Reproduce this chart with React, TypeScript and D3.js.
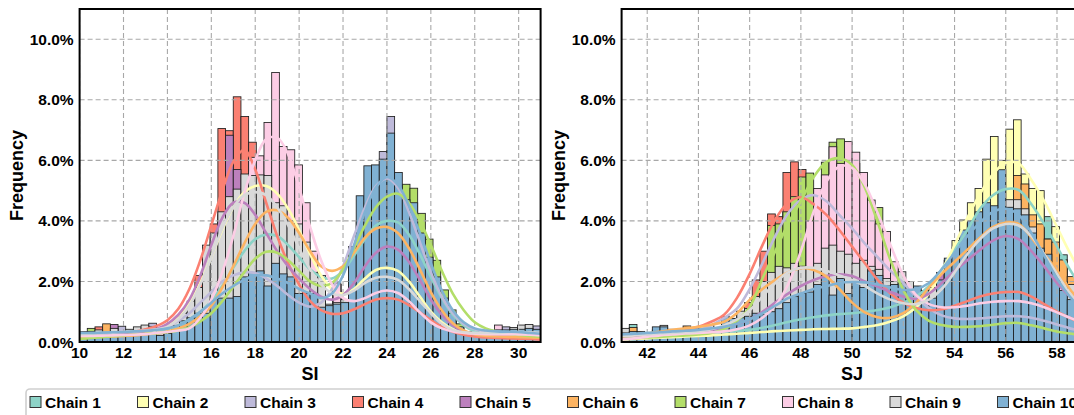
import React from "react";
import * as d3 from "d3";

// ---- chains ----
const CHAIN_NAMES = ["Chain 1", "Chain 2", "Chain 3", "Chain 4", "Chain 5", "Chain 6", "Chain 7", "Chain 8", "Chain 9", "Chain 10"];
const CHAIN_COLORS = ["#8dd3c7", "#ffffb3", "#bebada", "#fb8072", "#bc80bd", "#fdb462", "#b3de69", "#fccde5", "#d9d9d9", "#80b1d3"];

// ---- ticks ----
const FREQ_TICKS = [0, 2, 4, 6, 8, 10];
const SI_TICKS = [10, 12, 14, 16, 18, 20, 22, 24, 26, 28, 30];
const SJ_TICKS = [42, 44, 46, 48, 50, 52, 54, 56, 58];

// ---- binning / density grids ----
const SI_FIRST_EDGE = 10;
const SI_BIN_WIDTH = 0.35;
const SJ_FIRST_EDGE = 41;
const SJ_BIN_WIDTH = 0.3;
const SI_KDE_START = 10;
const SJ_KDE_START = 41;
const KDE_STEP = 0.5;

// ---- SI histograms (percent per bin) ----
const siHist1 = [.2,.2,.25,.28,.3,.2,.2,.3,.35,.4, .22,.28,.5,.65,.8,.95,1.2,1.6,2.0,2.6, 3.0,3.3,3.5,3.6,3.5,3.7,3.3,3.0,2.6,2.3, 2.2,2.0,1.2,1.9,1.35,2.8,3.3,3.7,3.9,4.1, 4.2,3.9,3.6,3.2,2.7,2.1,1.6,1.1,.8,.5, .3,.25,.25,.25,.3,.3,.3,.3,.3,.3];
const siHist2 = [.15,.2,.2,.25,.3,.25,.25,.3,.35,.4, .25,.3,.65,.9,1.3,1.8,2.5,3.3,4.0,4.6, 4.9,5.2,5.3,5.4,5.1,5.0,4.6,4.1,3.6,3.0, 2.3,2.0,1.2,1.7,1.35,1.9,2.1,2.3,2.4,2.5, 2.6,2.4,2.1,1.8,1.4,1.0,.7,.5,.35,.3, .25,.2,.2,.2,.2,.2,.2,.2,.2,.2];
const siHist3 = [.2,.25,.3,.3,.35,.52,.3,.35,.4,.62, .25,.3,.55,.8,1.0,1.3,1.6,1.9,2.1,2.2, 2.3,2.35,2.3,2.2,2.0,1.9,1.7,1.4,1.3,1.2, 1.15,1.2,1.2,1.6,1.35,3.0,4.0,4.6,5.2,6.29, 7.45,5.1,4.3,3.8,3.0,2.3,1.6,1.1,.75,.5, .34,.25,.25,.28,.35,.5,.4,.4,.4,.53];
const siHist4 = [.34,.2,.5,.25,.3,.2,.3,.35,.4,.45, .2,.3,.6,.9,1.3,2.2,3.0,3.9,7.05,6.98, 8.1,7.45,6.6,5.3,4.5,3.9,3.2,2.4,2.0,1.5, 1.2,1.1,.9,.9,1.0,1.1,1.2,1.4,1.5,1.5, 1.6,1.4,1.3,1.1,.9,.7,.5,.4,.3,.22, .2,.15,.15,.15,.12,.12,.12,.1,.1,.1];
const siHist5 = [.15,.2,.22,.25,.58,.2,.25,.3,.35,.42, .25,.3,.65,.9,1.3,1.8,2.8,3.5,4.2,6.83, 5.7,4.6,4.4,3.9,3.5,3.1,2.7,2.3,2.1,1.9, 1.7,1.5,1.2,1.5,1.4,2.0,2.4,2.8,3.0,3.3, 3.3,3.0,2.7,2.3,1.8,1.3,.9,.6,.4,.3, .25,.22,.2,.2,.2,.2,.2,.2,.2,.2];
const siHist6 = [.12,.15,.18,.6,.2,.2,.22,.25,.28,.3, .25,.3,.4,.55,.7,.95,1.2,1.7,2.2,2.8, 3.3,3.8,4.2,4.5,4.5,4.4,4.1,3.7,3.3,2.8, 2.3,2.1,1.2,1.9,1.38,3.0,3.3,3.6,3.8,3.9, 3.9,3.6,3.2,2.8,2.2,1.6,1.1,.7,.45,.3, .25,.2,.2,.2,.2,.2,.2,.2,.2,.2];
const siHist7 = [.1,.45,.2,.2,.22,.2,.22,.25,.28,.5, .2,.3,.35,.42,.5,.7,.9,1.3,1.7,2.1, 2.4,2.7,2.9,3.0,3.0,2.9,2.7,2.5,2.2,2.0, 1.9,1.9,1.2,1.9,1.35,3.0,3.6,4.1,4.5,4.8, 5.0,5.0,5.21,5.08,4.25,3.4,2.7,1.72,1.06,.6, .3,.3,.28,.25,.25,.25,.22,.2,.2,.2];
const siHist8 = [.2,.25,.25,.2,.3,.2,.25,.3,.3,.35, .3,.25,.45,.55,.7,.9,1.2,1.7,2.3,3.0, 3.8,4.8,6.1,6.15,7.25,8.9,6.46,6.35,5.85,4.6, 3.0,2.0,1.2,1.95,1.3,1.35,1.5,1.6,1.7,1.75, 1.8,1.65,1.45,1.2,.95,.75,.55,.45,.35,.3, .28,.33,.25,.28,.56,.3,.3,.3,.3,.3];
const siHist9 = [.3,.35,.4,.15,.45,.2,.42,.5,.56,.45, .2,.32,.7,.95,1.35,1.8,3.2,3.6,4.3,4.8, 5.05,5.55,5.5,5.52,5.5,4.6,4.5,4.0,3.9,3.3, 2.3,2.2,1.25,1.3,1.4,1.8,2.0,2.1,2.2,2.2, 2.3,2.2,2.0,1.8,1.5,1.1,.8,.55,.4,.35, .28,.28,.3,.32,.35,.38,.48,.56,.58,.4];
const siHist10 = [.2,.25,.25,.3,.3,.22,.2,.3,.35,.3, .22,.28,.55,.7,.8,.95,.95,1.4,1.45,1.45, 1.5,2.15,2.3,2.35,1.85,2.6,2.25,2.15,1.6,1.6, 1.6,1.15,1.2,1.25,1.3,3.15,4.83,5.82,5.85,6.04, 6.9,5.6,4.7,4.6,3.6,2.8,2.15,1.45,.95,.5, .3,.28,.28,.3,.4,.4,.42,.42,.45,.42];

// ---- SI density curves (percent, every 0.5 from 10 to 31) ----
const siKde1 = [.2,.22,.24,.26,.3,.32,.35,.38,.42,.55,.75,1.0,1.35,1.85,2.45,3.0,3.4,3.55,3.5,3.2,2.8,2.4,2.15,2.1,2.35,2.85,3.4,3.85,4.0,3.95,3.55,2.9,2.15,1.45,.9,.55,.35,.25,.22,.2,.2,.19,.18];
const siKde2 = [.15,.17,.19,.21,.24,.27,.31,.4,.55,.85,1.3,1.95,2.8,3.7,4.45,4.95,5.15,5.15,4.9,4.4,3.7,2.9,2.2,1.75,1.6,1.75,2.1,2.38,2.45,2.35,2.0,1.5,1.0,.65,.42,.3,.25,.22,.2,.19,.18,.17,.16];
const siKde3 = [.25,.27,.29,.3,.32,.35,.38,.43,.5,.7,.95,1.3,1.65,2.0,2.2,2.3,2.28,2.1,1.85,1.55,1.3,1.17,1.3,1.75,2.5,3.5,4.45,5.15,5.4,5.1,4.3,3.3,2.3,1.5,.95,.6,.42,.35,.32,.3,.28,.25,.22];
const siKde4 = [.12,.15,.19,.23,.28,.34,.42,.53,.72,1.1,1.75,2.7,3.85,5.0,5.95,6.35,5.7,4.6,3.5,2.6,1.9,1.35,1.05,.93,.95,1.08,1.25,1.4,1.45,1.4,1.22,.98,.72,.5,.34,.24,.18,.15,.13,.12,.11,.1,.08];
const siKde5 = [.18,.2,.22,.24,.27,.3,.35,.43,.6,.9,1.4,2.2,3.2,4.1,4.6,4.6,4.2,3.6,3.0,2.5,2.1,1.75,1.5,1.4,1.55,1.95,2.5,2.95,3.15,3.05,2.65,2.05,1.4,.9,.55,.35,.25,.21,.19,.18,.17,.16,.15];
const siKde6 = [.15,.16,.17,.18,.2,.22,.25,.29,.35,.45,.6,.85,1.2,1.8,2.5,3.25,3.9,4.3,4.35,4.1,3.6,3.0,2.5,2.35,2.5,2.95,3.45,3.75,3.8,3.6,3.1,2.4,1.65,1.05,.62,.38,.25,.2,.18,.17,.16,.15,.14];
const siKde7 = [.1,.13,.16,.19,.22,.25,.27,.29,.32,.38,.48,.68,.95,1.35,1.83,2.3,2.75,2.98,2.95,2.7,2.35,2.0,1.85,1.95,2.4,3.1,3.85,4.45,4.8,4.9,4.6,4.0,3.2,2.35,1.6,1.05,.65,.45,.35,.28,.23,.2,.17];
const siKde8 = [.2,.2,.21,.22,.23,.24,.26,.3,.33,.38,.45,.8,1.4,2.3,3.5,4.9,6.0,6.7,6.75,6.2,5.1,3.8,2.7,1.9,1.45,1.35,1.45,1.62,1.7,1.62,1.35,.98,.65,.45,.35,.3,.27,.26,.26,.26,.25,.24,.22];
const siKde9 = [.25,.27,.29,.31,.33,.35,.38,.42,.5,.75,1.2,1.9,2.8,3.75,4.45,4.85,4.95,4.85,4.45,3.85,3.1,2.4,1.9,1.6,1.55,1.7,1.95,2.12,2.15,2.05,1.75,1.35,.95,.6,.4,.32,.3,.3,.3,.32,.33,.32,.3];
const siKde10 = [.3,.3,.31,.32,.33,.35,.37,.4,.45,.55,.75,1.0,1.3,1.6,1.85,2.05,2.2,2.2,2.1,1.95,1.75,1.6,1.45,1.6,2.2,3.2,4.3,5.1,5.45,5.2,4.5,3.6,2.6,1.7,1.05,.65,.45,.38,.35,.34,.33,.3,.27];

// ---- SJ histograms (percent per bin) ----
const sjHist1 = [.15,.58,.2,.2,.22,.23,.25,.26,.27,.28, .29,.31,.33,.34,.36,.38,.4,.45,.5,.55, .6,.66,.7,.75,.8,.84,.88,.9,.92,.94, .95,1.0,1.03,1.06,1.1,1.15,1.25,1.35,1.5,1.65, 1.75,2.0,2.7,3.0,3.4,3.9,4.3,4.6,4.9,5.0, 5.1,5.0,4.7,4.5,4.4,4.14,3.4,2.88,2.1,1.8];
const sjHist2 = [.08,.1,.12,.13,.14,.15,.17,.18,.19,.2, .21,.22,.23,.25,.26,.28,.3,.32,.34,.36, .37,.38,.4,.41,.42,.43,.44,.44,.45,.45, .46,.5,.52,.56,.62,.7,.85,1.0,1.2,1.45, 1.7,2.05,2.7,3.35,4.03,4.6,5.07,6.04,6.79,6.0, 7.03,7.34,5.55,5.07,5.0,3.4,3.81,2.7,2.1,1.7];
const sjHist3 = [.15,.17,.2,.22,.25,.28,.3,.33,.36,.4, .42,.46,.48,.75,.78,1.0,1.1,1.5,2.0,3.5, 3.8,4.3,4.7,4.9,4.9,4.7,4.5,4.3,4.0,3.8, 3.6,3.3,3.0,2.8,2.5,2.2,1.9,1.6,1.3,1.1, .9,.85,.8,.78,.78,.8,.8,.82,.85,.88, .88,.85,.82,.78,.72,.65,.58,.5,.42,.35];
const sjHist4 = [.12,.15,.18,.22,.25,.28,.3,.33,.36,.4, .42,.45,.48,.7,.75,.95,1.3,2.05,3.0,4.23, 4.14,5.6,5.95,5.7,4.7,4.5,4.3,4.0,3.7,3.4, 3.1,2.8,2.4,2.1,1.8,1.6,1.4,1.25,1.15,1.1, 1.05,1.1,1.15,1.25,1.35,1.45,1.5,1.55,1.6,1.65, 1.7,1.65,1.6,1.45,1.3,1.15,1.0,.9,.8,.65];
const sjHist5 = [.12,.14,.16,.18,.2,.22,.25,.27,.3,.32, .34,.38,.42,.5,.6,.7,.8,1.0,1.2,1.3, 1.45,1.65,1.8,1.9,2.0,2.1,2.2,2.2,2.3,2.2, 2.2,2.0,1.9,1.8,1.7,1.6,1.5,1.45,1.45,1.5, 1.45,2.3,2.2,2.5,2.8,3.0,3.2,3.4,3.5,3.6, 3.5,3.4,3.2,2.8,2.5,2.2,1.9,1.6,1.3,1.0];
const sjHist6 = [.2,.48,.25,.28,.3,.35,.38,.4,.53,.45, .45,.5,.45,.7,.75,1.0,1.1,1.5,1.8,2.1, 2.2,2.35,2.45,2.45,2.4,2.3,2.2,1.55,1.6,1.5, 1.2,1.0,.9,.8,.8,.85,1.0,1.2,1.5,1.7, 1.45,2.0,2.4,2.6,3.0,3.3,3.6,3.9,4.2,4.5, 4.4,5.5,5.22,4.2,3.9,3.4,3.3,2.71,2.16,1.6];
const sjHist7 = [.1,.12,.13,.15,.16,.17,.2,.2,.22,.24, .25,.28,.3,.38,.5,.75,1.0,1.4,1.9,3.85, 3.9,4.3,4.8,5.45,5.58,5.0,5.94,6.6,6.71,6.0, 5.9,5.2,4.5,4.44,3.2,2.5,1.9,1.5,1.2,.8, .6,.55,.5,.5,.5,.52,.55,.58,.6,.62, .65,.62,.6,.55,.5,.45,.4,.35,.3,.25];
const sjHist8 = [.1,.12,.15,.17,.2,.22,.25,.27,.28,.3, .3,.32,.33,.35,.4,.45,.55,.7,.9,1.2, 1.5,2.0,2.5,2.5,4.0,5.07,5.52,6.45,5.9,6.62, 6.27,5.6,4.69,3.9,3.65,2.65,2.0,1.6,1.4,1.3, 1.2,1.2,1.2,1.2,1.25,1.3,1.3,1.35,1.35,1.4, 1.4,1.35,1.3,1.2,1.1,1.0,.9,.8,.7,.6];
const sjHist9 = [.45,.3,.35,.25,.4,.55,.35,.35,.35,.4, .4,.56,.45,.7,.75,1.02,1.1,1.5,2.0,2.3, 2.5,2.45,2.6,2.5,2.45,2.6,3.1,3.2,3.0,2.9, 2.6,2.7,2.5,2.4,2.1,2.0,2.32,2.0,1.6,1.5, 1.8,1.9,2.4,2.8,3.2,3.5,3.8,4.0,4.3,4.4, 4.7,4.7,4.4,3.8,3.0,2.6,2.2,2.0,1.9,1.5];
const sjHist10 = [.3,.35,.3,.3,.5,.5,.42,.4,.4,.47, .45,.45,.48,.84,.78,.8,.85,.95,.9,1.0, 1.1,1.3,1.5,1.6,1.65,1.9,2.2,1.55,2.1,1.6, 2.0,1.8,2.35,2.2,1.85,1.9,1.95,1.7,1.85,1.7, 1.45,2.05,2.77,3.1,3.7,4.0,4.3,4.6,4.5,5.69, 4.45,4.4,4.2,3.6,3.1,2.9,2.3,1.7,1.4,1.05];

// ---- SJ density curves (percent, every 0.5 from 41 to 59) ----
const sjKde1 = [.15,.18,.2,.22,.24,.26,.28,.31,.34,.37,.4,.47,.56,.66,.75,.82,.88,.92,.95,1.0,1.06,1.15,1.3,1.5,1.85,2.4,3.05,3.7,4.4,4.85,5.05,5.02,4.55,3.9,3.15,2.4,1.75];
const sjKde2 = [.08,.1,.12,.14,.16,.18,.2,.22,.25,.27,.3,.33,.36,.38,.4,.42,.43,.44,.45,.5,.56,.68,.85,1.15,1.6,2.35,3.2,4.1,4.9,5.55,5.92,5.9,5.35,4.65,3.8,2.95,2.2];
const sjKde3 = [.15,.17,.2,.24,.28,.33,.4,.55,.8,1.1,1.75,2.6,3.5,4.25,4.7,4.85,4.65,4.2,3.75,3.25,2.8,2.35,1.95,1.5,1.12,.88,.78,.76,.78,.82,.85,.85,.8,.7,.58,.45,.35];
const sjKde4 = [.12,.17,.23,.28,.34,.41,.5,.67,.9,1.45,2.25,3.2,4.05,4.6,4.78,4.55,4.2,3.7,3.15,2.6,2.05,1.6,1.3,1.12,1.05,1.08,1.2,1.35,1.5,1.6,1.65,1.65,1.5,1.25,1.0,.8,.6];
const sjKde5 = [.12,.15,.18,.22,.26,.3,.34,.4,.5,.6,.75,1.0,1.3,1.6,1.85,2.05,2.18,2.24,2.18,2.0,1.83,1.65,1.5,1.42,1.6,1.95,2.35,2.7,3.05,3.35,3.5,3.4,3.0,2.5,1.95,1.5,1.1];
const sjKde6 = [.18,.23,.29,.34,.4,.45,.5,.57,.67,.95,1.39,1.75,2.05,2.3,2.44,2.38,2.16,1.75,1.3,.98,.82,.8,.95,1.3,1.8,2.25,2.65,3.05,3.45,3.8,3.95,3.9,3.45,2.9,2.38,1.75,1.25];
const sjKde7 = [.1,.12,.15,.17,.2,.22,.25,.3,.42,.7,1.15,2.1,3.0,3.9,4.65,5.45,5.95,6.07,5.85,5.1,3.95,2.7,1.72,1.05,.7,.56,.5,.5,.52,.57,.62,.63,.55,.45,.35,.28,.22];
const sjKde8 = [.08,.12,.17,.22,.25,.28,.3,.32,.35,.42,.55,.8,1.2,1.9,3.0,4.3,5.3,5.8,5.75,5.2,4.25,3.2,2.2,1.55,1.25,1.15,1.15,1.2,1.28,1.33,1.35,1.35,1.28,1.15,.98,.8,.65];
const sjKde9 = [.2,.22,.25,.28,.3,.32,.35,.42,.55,.75,1.05,1.5,1.95,2.3,2.45,2.45,2.35,2.2,2.05,1.85,1.6,1.4,1.28,1.25,1.4,1.75,2.3,2.9,3.4,3.75,3.9,3.85,3.5,2.9,2.25,1.6,1.1];
const sjKde10 = [.25,.27,.3,.32,.35,.37,.4,.45,.5,.6,.75,.95,1.2,1.45,1.6,1.75,1.85,1.95,1.98,1.97,1.9,1.8,1.72,1.75,1.95,2.4,2.95,3.5,3.95,4.3,4.4,4.2,3.6,2.85,2.1,1.5,1.05];

const SI_HIST = [siHist1, siHist2, siHist3, siHist4, siHist5, siHist6, siHist7, siHist8, siHist9, siHist10];
const SI_KDE = [siKde1, siKde2, siKde3, siKde4, siKde5, siKde6, siKde7, siKde8, siKde9, siKde10];
const SJ_HIST = [sjHist1, sjHist2, sjHist3, sjHist4, sjHist5, sjHist6, sjHist7, sjHist8, sjHist9, sjHist10];
const SJ_KDE = [sjKde1, sjKde2, sjKde3, sjKde4, sjKde5, sjKde6, sjKde7, sjKde8, sjKde9, sjKde10];

// ---- layout ----
const WIDTH = 1074;
const HEIGHT = 415;
const PLOT_TOP = 9;
const PLOT_BOTTOM = 342;
const PLOT_WIDTH = 461;
const FONT = "'Liberation Sans', Arial, Helvetica, sans-serif";

type PanelProps = {
  id: string;
  left: number;
  domain: [number, number];
  ticks: number[];
  hist: number[][];
  kde: number[][];
  firstEdge: number;
  binWidth: number;
  kdeStart: number;
  label: string;
};

function Panel({ id, left, domain, ticks, hist, kde, firstEdge, binWidth, kdeStart, label }: PanelProps) {
  const x = d3.scaleLinear().domain(domain).range([left, left + PLOT_WIDTH]);
  const y = d3.scaleLinear().domain([0, 11]).range([PLOT_BOTTOM, PLOT_TOP]);
  const fmt = d3.format(".1f");
  const line = d3
    .line<number>()
    .x((_, i) => x(kdeStart + i * KDE_STEP))
    .y((d) => y(d))
    .curve(d3.curveCatmullRom);
  const clipId = `clip-${id}`;
  const right = left + PLOT_WIDTH;

  return (
    <g>
      <defs>
        <clipPath id={clipId}>
          <rect x={left} y={PLOT_TOP} width={PLOT_WIDTH} height={PLOT_BOTTOM - PLOT_TOP} />
        </clipPath>
      </defs>

      {/* layered histograms: later chains are drawn on top */}
      <g clipPath={`url(#${clipId})`}>
        {hist.map((bins, c) => (
          <g key={c}>
            {bins.map((v, k) => {
              const x0 = x(firstEdge + k * binWidth);
              const x1 = x(firstEdge + (k + 1) * binWidth);
              return (
                <rect
                  key={k}
                  x={x0}
                  y={y(v)}
                  width={x1 - x0}
                  height={y(0) - y(v)}
                  fill={CHAIN_COLORS[c]}
                  stroke="#1e1e1e"
                  strokeWidth={0.85}
                />
              );
            })}
          </g>
        ))}
      </g>

      {/* dashed grid above the bars */}
      <g clipPath={`url(#${clipId})`}>
        {ticks.map((t) => (
          <line key={`gx${t}`} x1={x(t)} x2={x(t)} y1={PLOT_TOP} y2={PLOT_BOTTOM} stroke="#a8a8a8" strokeWidth={1.1} strokeDasharray="5,3" />
        ))}
        {FREQ_TICKS.filter((t) => t > 0).map((t) => (
          <line key={`gy${t}`} x1={left} x2={right} y1={y(t)} y2={y(t)} stroke="#a8a8a8" strokeWidth={1.1} strokeDasharray="5,3" />
        ))}
      </g>

      {/* density curves */}
      <g clipPath={`url(#${clipId})`}>
        {kde.map((vals, c) => (
          <path key={c} d={line(vals) || ""} fill="none" stroke={CHAIN_COLORS[c]} strokeWidth={2.6} strokeLinejoin="round" />
        ))}
      </g>

      {/* frame */}
      <rect x={left} y={PLOT_TOP} width={PLOT_WIDTH} height={PLOT_BOTTOM - PLOT_TOP} fill="none" stroke="#000" strokeWidth={2} />

      {/* y tick labels */}
      {FREQ_TICKS.map((t) => (
        <text key={`yl${t}`} x={left - 6} y={y(t)} textAnchor="end" dominantBaseline="central" fontFamily={FONT} fontWeight="bold" fontSize={15.5} fill="#000">
          {`${fmt(t)}%`}
        </text>
      ))}

      {/* x tick labels */}
      {ticks.map((t) => (
        <text key={`xl${t}`} x={x(t)} y={358} textAnchor="middle" fontFamily={FONT} fontWeight="bold" fontSize={15.5} fill="#000">
          {t}
        </text>
      ))}

      <text x={(left + right) / 2} y={380} textAnchor="middle" fontFamily={FONT} fontWeight="bold" fontSize={18} fill="#000">
        {label}
      </text>
      <text
        transform={`translate(${left - 63},${(PLOT_TOP + PLOT_BOTTOM) / 2}) rotate(-90)`}
        textAnchor="middle"
        dominantBaseline="central"
        fontFamily={FONT}
        fontWeight="bold"
        fontSize={18}
        fill="#000"
      >
        Frequency
      </text>
    </g>
  );
}

function Legend() {
  const step = 107.5;
  return (
    <g>
      <rect x={26} y={389} width={1070} height={40} rx={4} fill="#fff" stroke="#cfcfcf" strokeWidth={1.6} />
      {CHAIN_NAMES.map((name, i) => {
        const px = 30 + i * step;
        return (
          <g key={name}>
            <rect x={px} y={396.5} width={11} height={11} fill={CHAIN_COLORS[i]} stroke="#333" strokeWidth={1} />
            <text x={px + 15} y={402} dominantBaseline="central" fontFamily={FONT} fontWeight="bold" fontSize={15.5} fill="#000">
              {name}
            </text>
          </g>
        );
      })}
    </g>
  );
}

export default function App() {
  return (
    <svg
      width={WIDTH}
      height={HEIGHT}
      viewBox={`0 0 ${WIDTH} ${HEIGHT}`}
      style={{ position: "absolute", left: 0, top: 0, background: "#fff" }}
    >
      <rect x={0} y={0} width={WIDTH} height={HEIGHT} fill="#fff" />
      <Panel
        id="si"
        left={79.6}
        domain={[10, 31]}
        ticks={SI_TICKS}
        hist={SI_HIST}
        kde={SI_KDE}
        firstEdge={SI_FIRST_EDGE}
        binWidth={SI_BIN_WIDTH}
        kdeStart={SI_KDE_START}
        label="SI"
      />
      <Panel
        id="sj"
        left={621.6}
        domain={[41, 59]}
        ticks={SJ_TICKS}
        hist={SJ_HIST}
        kde={SJ_KDE}
        firstEdge={SJ_FIRST_EDGE}
        binWidth={SJ_BIN_WIDTH}
        kdeStart={SJ_KDE_START}
        label="SJ"
      />
      <Legend />
    </svg>
  );
}
